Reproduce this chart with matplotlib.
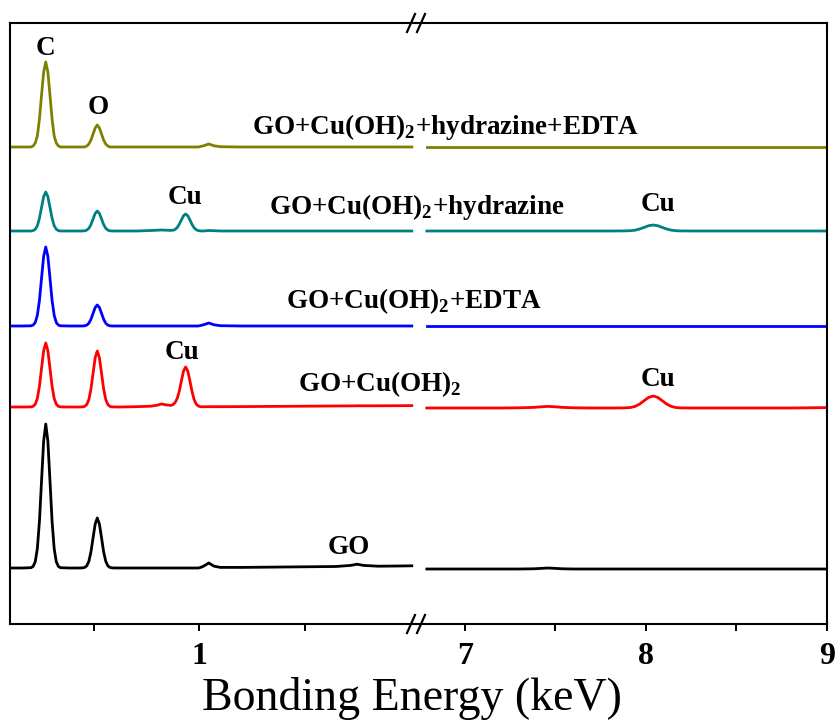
import matplotlib
matplotlib.use("Agg")
import matplotlib.pyplot as plt

plt.rcParams["font.family"] = ["Liberation Serif", "DejaVu Serif"]
plt.rcParams["mathtext.fontset"] = "custom"
plt.rcParams["mathtext.rm"] = "Liberation Serif:bold"
plt.rcParams["mathtext.bf"] = "Liberation Serif:bold"

# energy grid (keV) for the low-energy window
e_low = [0.10, 0.16,
         0.20, 0.21, 0.22, 0.23, 0.24, 0.25, 0.26, 0.27, 0.28, 0.29, 0.30, 0.31, 0.32, 0.33, 0.34,
         0.38, 0.42,
         0.445, 0.455, 0.465, 0.475, 0.485, 0.495, 0.505, 0.515, 0.525, 0.535, 0.545, 0.555,
         0.565, 0.575, 0.585,
         0.62, 0.70, 0.77, 0.80, 0.82, 0.84,
         0.865, 0.875, 0.885, 0.895, 0.905, 0.915, 0.925, 0.935, 0.945, 0.955, 0.965, 0.975,
         0.985, 0.995, 1.005,
         1.02, 1.045, 1.07, 1.10, 1.20, 1.35, 1.50, 1.65, 1.72, 1.75, 1.78, 1.85, 1.95, 2.01]

# energy grid (keV) for the Cu K window
e_high = [6.79, 6.9, 7.0, 7.1, 7.2, 7.3, 7.38, 7.42, 7.46, 7.50, 7.54, 7.6, 7.7, 7.8,
          7.88, 7.915, 7.94, 7.965, 7.99, 8.015, 8.04, 8.065, 8.09, 8.115, 8.14, 8.165, 8.19,
          8.25, 8.35, 8.5, 8.6, 8.7, 8.8, 8.9, 9.0]

# intensities (a.u.) above each trace's baseline
go_low = [0, 0,
          0.3, 1.6, 6.3, 19.4, 46.8, 87.4, 127, 144, 127, 87.4, 46.8, 19.4, 6.3, 1.6, 0.3,
          0, 0,
          0.1, 0.6, 2.2, 6.8, 16.3, 30.4, 44, 50, 44, 30.4, 16.3, 6.8, 2.2, 0.6, 0.1,
          0, 0, 0, 0, 0, 0,
          0, 0, 0, 0, 0, 0, 0, 0, 0, 0, 0, 0, 0, 0, 0.5,
          1.8, 5, 1.8, 0.6, 0.6, 0.9, 1.2, 1.5, 2.6, 3.8, 2.6, 1.8, 2, 2.2]
go_high = [-1, -1, -1, -1, -1, -1, -0.8, -0.4, 0, -0.4, -0.8, -1, -1, -1,
           -1, -1, -1, -1, -1, -1, -1, -1, -1, -1, -1, -1, -1,
           -1, -1, -1, -1, -1, -1, -1, -1]

cuoh_low = [0, 0,
            0.1, 0.7, 2.8, 8.6, 20.8, 38.8, 56.4, 64, 56.4, 38.8, 20.8, 8.6, 2.8, 0.7, 0.1,
            0, 0,
            0.1, 0.6, 2.5, 7.6, 18.2, 34, 49.4, 56, 49.4, 34, 18.2, 7.6, 2.5, 0.6, 0.1,
            0, 0.3, 0.8, 1.8, 3, 2.2,
            1.6, 2.4, 4.5, 8.6, 16, 26.4, 36, 40, 36, 26.4, 15.8, 7.6, 3, 1, 0.3,
            0.2, 0.3, 0.3, 0.3, 0.4, 0.6, 0.8, 1, 1.1, 1.2, 1.2, 1.2, 1.3, 1.4]
cuoh_high = [-1, -1, -1, -1, -1, -0.8, -0.4, 0.2, 0.6, 0.2, -0.4, -0.8, -1, -1,
             -0.9, -0.5, 0.6, 2.9, 6.3, 9.6, 11, 9.6, 6.3, 2.9, 0.6, -0.5, -0.9,
             -1, -1, -1, -1, -1, -1, -0.8, -0.6]

edta_low = [0, 0,
            0.2, 0.9, 3.5, 10.7, 25.7, 48, 69.7, 79, 69.7, 48, 25.7, 10.7, 3.5, 0.9, 0.2,
            0, 0,
            0, 0.2, 0.9, 2.8, 6.8, 12.7, 18.5, 21, 18.5, 12.7, 6.8, 2.8, 0.9, 0.2, 0,
            0, 0, 0, 0, 0, 0,
            0, 0, 0, 0, 0, 0, 0, 0, 0, 0, 0, 0, 0, 0, 0.5,
            1.2, 3, 1.2, 0.3, 0, 0, 0, 0, 0, 0, 0, 0, 0, 0]
edta_high = [0] * 35

hyd_low = [0, 0,
           0, 0.4, 1.7, 5.3, 12.7, 23.7, 34.4, 39, 34.4, 23.7, 12.7, 5.3, 1.7, 0.4, 0,
           0, 0,
           0, 0.2, 0.9, 2.7, 6.5, 12.1, 17.6, 20, 17.6, 12.1, 6.5, 2.7, 0.9, 0.2, 0,
           0, 0, 0.5, 0.8, 1, 0.8,
           0.6, 0.8, 1.6, 3.5, 6.9, 11.2, 15.3, 17, 15.3, 11.2, 6.7, 3.2, 1.3, 0.4, 0.1,
           0, 0.5, 0.3, 0, 0, 0, 0, 0, 0, 0, 0, 0, 0, 0]
hyd_high = [0, 0, 0, 0, 0, 0, 0, 0, 0, 0, 0, 0, 0, 0,
            0.1, 0.3, 0.8, 2, 3.6, 5.3, 6, 5.3, 3.6, 2, 0.8, 0.3, 0.1,
            0, 0, 0, 0, 0, 0, 0, 0]

hyd_edta_low = [0, 0,
                0, 1, 4, 11, 28, 52, 75, 85, 75, 52, 28, 11, 4, 1, 0,
                0, 0,
                0, 0, 1, 3, 7, 13, 19, 22, 19, 13, 7, 3, 1, 0, 0,
                0, 0, 0, 0, 0, 0,
                0, 0, 0, 0, 0, 0, 0, 0, 0, 0, 0, 0, 0, 0, 0.5,
                1.2, 3, 1.2, 0.3, 0, 0, 0, 0, 0, 0, 0, 0, 0, 0]
hyd_edta_high = [0] * 35

offsets = [56, 217, 298, 393, 477]
colors = ["black", "#ff0000", "#0000ff", "#008080", "#808000"]
traces = [(go_low, go_high), (cuoh_low, cuoh_high), (edta_low, edta_high),
          (hyd_low, hyd_high), (hyd_edta_low, hyd_edta_high)]

W, H = 839, 724
fig = plt.figure(figsize=(W / 100, H / 100), dpi=100)
x0, xb, x1 = 10, 416, 827
y0, y1 = 100, 701
ax1 = fig.add_axes([x0 / W, y0 / H, (xb - x0) / W, (y1 - y0) / H])
ax2 = fig.add_axes([xb / W, y0 / H, (x1 - xb) / W, (y1 - y0) / H])
# keep the left panel (and its labels) above the right one
ax1.set_zorder(2)
ax1.patch.set_visible(False)

for (lo, hi), off, c in zip(traces, offsets, colors):
    ax1.plot(e_low, [v + off for v in lo], color=c, lw=2.0)
    ax2.plot(e_high, [v + off for v in hi], color=c, lw=2.0)

ax1.set_xlim(0.1, 2.03)
ax2.set_xlim(6.73, 9.0)
for ax in (ax1, ax2):
    ax.set_ylim(0, 601)
    ax.set_yticks([])
    for s in ax.spines.values():
        s.set_linewidth(1.5)
    ax.tick_params(axis="x", direction="out", length=5, width=1.4, pad=8)
ax1.spines["right"].set_visible(False)
ax2.spines["left"].set_visible(False)

ax1.set_xticks([0.5, 1.0, 1.5])
ax1.set_xticklabels(["", "1", ""], fontweight="bold", fontsize=23)
ax2.set_xticks([7, 7.5, 8, 8.5, 9])
ax2.set_xticklabels(["7", "", "8", "", "9"], fontweight="bold", fontsize=23)

# break marks on top and bottom spines
for yb in (y0, y1):
    for dx in (-5, 5):
        fig.add_artist(plt.Line2D([(xb + dx - 4) / W, (xb + dx + 4) / W],
                                  [(yb - 9) / H, (yb + 9) / H],
                                  color="black", lw=1.6))

lab_kw = dict(fontsize=19.5, fontweight="bold", va="baseline", clip_on=False)
ax1.text(0.267, 569, "C", ha="center", **lab_kw)
ax1.text(0.519, 510, "O", ha="center", **lab_kw)
ax1.text(0.933, 420, "Cu", ha="center", **lab_kw)
ax1.text(0.919, 265, "Cu", ha="center", **lab_kw)
ax2.text(8.064, 413, "Cu", ha="center", **lab_kw)
ax2.text(8.064, 238, "Cu", ha="center", **lab_kw)
ax1.text(1.71, 70, "GO", ha="center", **lab_kw)
ax1.text(1.252, 490, r"GO+Cu(OH)$_2$+hydrazine+EDTA", ha="left", **lab_kw)
ax1.text(1.329, 410, r"GO+Cu(OH)$_2$+hydrazine", ha="left", **lab_kw)
ax1.text(1.414, 316, r"GO+Cu(OH)$_2$+EDTA", ha="left", **lab_kw)
ax1.text(1.467, 233, r"GO+Cu(OH)$_2$", ha="left", **lab_kw)

fig.text(412 / W, (H - 710) / H, "Bonding Energy (keV)", ha="center",
         va="baseline", fontsize=33)

fig.savefig("out.png", dpi=100)
